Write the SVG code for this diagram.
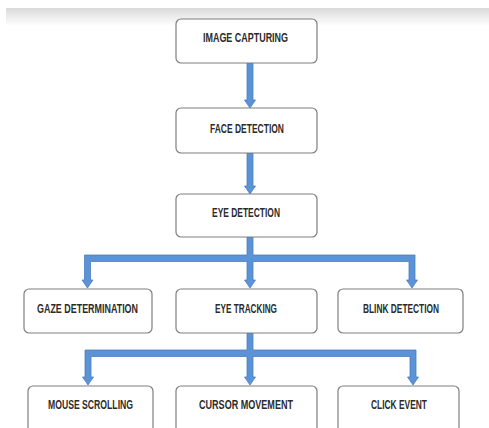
<svg xmlns="http://www.w3.org/2000/svg" width="489" height="428" viewBox="0 0 489 428">
<defs>
<linearGradient id="band" x1="0" y1="0" x2="0" y2="1">
<stop offset="0" stop-color="#dadada"/>
<stop offset="1" stop-color="#ffffff"/>
</linearGradient>
<style>
.box{fill:#ffffff;stroke:#7f7f7f;stroke-width:1.2}
.lbl{font-family:"Liberation Sans",Arial,sans-serif;font-size:13.5px;font-weight:bold;fill:#2b2b2b;text-anchor:middle}
.arr{fill:#5b93d6;stroke:#4a7fc0;stroke-width:0.8;stroke-linejoin:miter}
</style>
</defs>
<rect width="489" height="428" fill="#ffffff"/>
<rect x="6" y="8" width="483" height="18" fill="url(#band)"/>

<g id="connectors">
<polygon class="arr" points="247,63 253,63 253,100 255.5,100 250,108 244.5,100 247,100"/>
<polygon class="arr" points="247,153 253,153 253,186 255.5,186 250,194 244.5,186 247,186"/>
<path class="arr" d="M247,237 H253 V255 H415 V280 H417.5 L412,288 L406.5,280 H409 V261.5 H253 V280 H255.5 L250,288 L244.5,280 H247 V261.5 H90.5 V280 H93 L87.5,288 L82,280 H84.5 V255 H247 Z"/>
<path class="arr" d="M247,333 H253 V350 H416 V377 H418.5 L413,385 L407.5,377 H410 V356.5 H253 V377 H255.5 L250,385 L244.5,377 H247 V356.5 H91 V377 H93.5 L88,385 L82.5,377 H85 V350 H247 Z"/>
</g>

<g id="image-capturing"><rect class="box" x="176" y="19" width="141" height="44" rx="5"/><text class="lbl" x="245.5" y="42" textLength="85" lengthAdjust="spacingAndGlyphs">IMAGE CAPTURING</text></g>
<g id="face-detection"><rect class="box" x="176" y="108" width="141" height="45" rx="5"/><text class="lbl" x="247" y="133" textLength="74" lengthAdjust="spacingAndGlyphs">FACE DETECTION</text></g>
<g id="eye-detection"><rect class="box" x="176" y="194" width="141" height="43" rx="5"/><text class="lbl" x="246" y="217" textLength="68" lengthAdjust="spacingAndGlyphs">EYE DETECTION</text></g>
<g id="gaze-determination"><rect class="box" x="24" y="289" width="128" height="44" rx="5"/><text class="lbl" x="87.5" y="313" textLength="101" lengthAdjust="spacingAndGlyphs">GAZE DETERMINATION</text></g>
<g id="eye-tracking"><rect class="box" x="176" y="289" width="141" height="44" rx="5"/><text class="lbl" x="246" y="313" textLength="62" lengthAdjust="spacingAndGlyphs">EYE TRACKING</text></g>
<g id="blink-detection"><rect class="box" x="338" y="289" width="125" height="44" rx="5"/><text class="lbl" x="401" y="313" textLength="76" lengthAdjust="spacingAndGlyphs">BLINK DETECTION</text></g>
<g id="mouse-scrolling"><rect class="box" x="28" y="386" width="125" height="50" rx="5"/><text class="lbl" x="90.5" y="409" textLength="85" lengthAdjust="spacingAndGlyphs">MOUSE SCROLLING</text></g>
<g id="cursor-movement"><rect class="box" x="176" y="386" width="141" height="50" rx="5"/><text class="lbl" x="246" y="409" textLength="94" lengthAdjust="spacingAndGlyphs">CURSOR MOVEMENT</text></g>
<g id="click-event"><rect class="box" x="338" y="386" width="121" height="50" rx="5"/><text class="lbl" x="399" y="409" textLength="56" lengthAdjust="spacingAndGlyphs">CLICK EVENT</text></g>
</svg>
